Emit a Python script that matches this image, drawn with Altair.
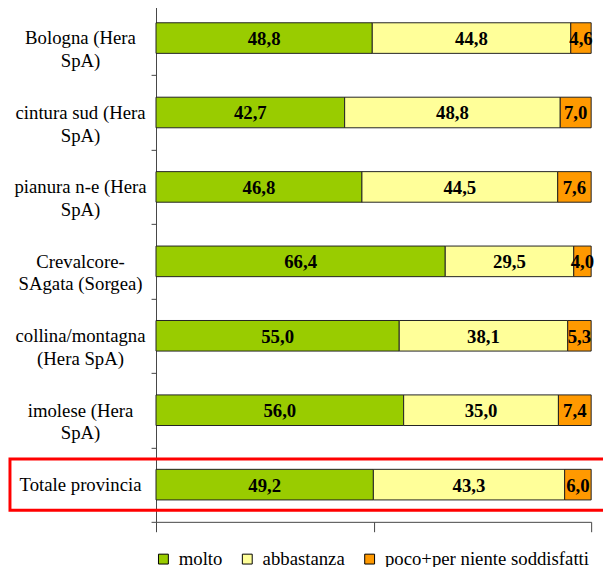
import altair as alt
import pandas as pd

areas = [
    "Bologna (Hera|SpA)",
    "cintura sud (Hera|SpA)",
    "pianura n-e (Hera|SpA)",
    "Crevalcore-|SAgata (Sorgea)",
    "collina/montagna|(Hera SpA)",
    "imolese (Hera|SpA)",
    "Totale provincia",
]
series = ["molto", "abbastanza", "poco+per niente soddisfatti"]
colors = ["#99CC00", "#FFFF99", "#FF9900"]
molto = [48.8, 42.7, 46.8, 66.4, 55.0, 56.0, 49.2]
abbastanza = [44.8, 48.8, 44.5, 29.5, 38.1, 35.0, 43.3]
poco = [4.6, 7.0, 7.6, 4.0, 5.3, 7.4, 6.0]
highlight = "Totale provincia"

rows = []
for i, a in enumerate(areas):
    for k, (s, vals) in enumerate(zip(series, [molto, abbastanza, poco])):
        v = vals[i]
        rows.append({"area": a, "serie": s, "order": k, "value": v,
                     "label": f"{v:.1f}".replace(".", ",")})
df = pd.DataFrame(rows)
box_df = pd.DataFrame({"area": [highlight]})

FONT = "'Liberation Serif', 'Times New Roman', Times, 'DejaVu Serif', serif"
AX = "#444444"

y_enc = alt.Y(
    "area:N",
    sort=areas,
    scale=alt.Scale(domain=areas, range=[-11, 517], paddingInner=0, paddingOuter=0),
    axis=alt.Axis(
        title=None, tickBand="extent", tickSize=5, labelPadding=72,
        labelAlign="center", labelBaseline="middle", labelFont=FONT,
        labelFontSize=19, labelColor="black", labelLineHeight=23,
        labelExpr="split(datum.label, '|')", labelOverlap=False, labelLimit=300,
        domainColor=AX, tickColor=AX, grid=False,
    ),
)

x_scale = alt.Scale(domain=[0, 1], nice=False)

bars = alt.Chart(df).mark_bar(size=31, stroke="#222222", strokeWidth=1).encode(
    x=alt.X(
        "value:Q", stack="normalize", scale=x_scale,
        axis=alt.Axis(values=[0, 0.5, 1], labels=False, tickSize=10, title=None,
                      grid=False, domainColor=AX, tickColor=AX),
    ),
    y=y_enc,
    color=alt.Color(
        "serie:N",
        scale=alt.Scale(domain=series, range=colors),
        legend=alt.Legend(
            title=None, orient="none", direction="horizontal", legendX=-2, legendY=545,
            symbolType="square", symbolSize=100, symbolStrokeColor="black",
            symbolStrokeWidth=1, labelFont=FONT, labelFontSize=19, labelColor="black",
            labelOffset=6, columnPadding=15, padding=0, labelLimit=400,
        ),
    ),
    order=alt.Order("order:Q"),
)

texts = alt.Chart(df).transform_stack(
    stack="value", groupby=["area"], sort=[alt.SortField("order")],
    offset="normalize", as_=["x0", "x1"],
).transform_calculate(mid="(datum.x0 + datum.x1) / 2").mark_text(
    font=FONT, fontSize=19, fontWeight="bold", color="black",
    align="center", baseline="middle", dy=1,
).encode(
    x=alt.X("mid:Q", scale=x_scale),
    y=alt.Y("area:N", sort=areas),
    text="label:N",
)

box = alt.Chart(box_df).mark_bar(
    size=52, fillOpacity=0, stroke="#FF0000", strokeWidth=3
).encode(
    y=alt.Y("area:N", sort=areas),
    x=alt.value(-148),
    x2=alt.value(480),
)

chart = alt.layer(bars, texts, box).properties(
    width=441, height=517,
    autosize=alt.AutoSizeParams(type="none"),
    padding={"left": 150, "top": 0, "right": 12, "bottom": 42},
).configure_view(strokeWidth=0)

chart.save("out.html", embed_options={"renderer": "svg", "actions": False})
